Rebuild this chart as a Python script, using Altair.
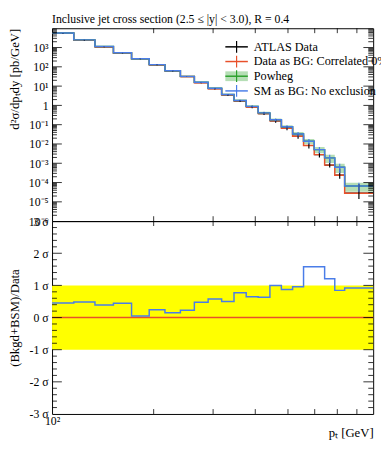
import altair as alt
import pandas as pd

# ---------------- data ----------------
edges = [100, 116, 134, 152, 172, 194, 216, 240, 264, 290, 318, 346, 376,
         408, 442, 478, 516, 556, 598, 642, 688, 736, 894]

atlas = [5450, 2380, 1080, 512, 263, 127, 61, 31.2, 15.0, 7.3, 3.45, 1.68,
         0.83, 0.375, 0.158, 0.066, 0.025, 0.0083, 0.0028, 0.0008, 2.4e-4, 2.8e-5]
atlas_err_down = [0.05, 0.05, 0.05, 0.05, 0.05, 0.06, 0.06, 0.06, 0.07, 0.08, 0.1,
                  0.12, 0.14, 0.16, 0.2, 0.22, 0.25, 0.3, 0.3, 0.25, 0.35, 0.5]
atlas_err_up = [0.05, 0.05, 0.05, 0.05, 0.05, 0.06, 0.06, 0.06, 0.07, 0.08, 0.1,
                0.12, 0.14, 0.16, 0.2, 0.22, 0.25, 0.3, 0.4, 1.0, 1.2, 2.0]

data_as_bg = [5450, 2380, 1080, 512, 263, 127, 61, 31.2, 15.0, 7.3, 3.45, 1.68,
              0.83, 0.375, 0.158, 0.066, 0.025, 0.0083, 0.0028, 0.0008, 2.4e-4, 2.8e-5]

powheg = [5700, 2500, 1120, 535, 265, 130, 62, 32, 15.8, 7.7, 3.63, 1.8,
          0.89, 0.41, 0.18, 0.079, 0.033, 0.0138, 0.0051, 0.0019, 6.2e-4, 6.6e-5]
powheg_err = [0.05, 0.05, 0.05, 0.05, 0.05, 0.05, 0.06, 0.06, 0.07, 0.08, 0.09, 0.1,
              0.12, 0.14, 0.17, 0.2, 0.25, 0.3, 0.35, 0.45, 0.5, 0.5]

sm_as_bg = [5700, 2500, 1120, 535, 265, 130, 62, 32, 15.8, 7.7, 3.63, 1.8,
            0.89, 0.41, 0.18, 0.079, 0.033, 0.0138, 0.0051, 0.0019, 6.2e-4, 6.6e-5]

ratio_sigma = [0.45, 0.485, 0.39, 0.445, 0.05, 0.24, 0.15, 0.23, 0.475, 0.58, 0.50,
               0.77, 0.65, 0.63, 1.0, 0.875, 0.96, 1.58, 1.58, 1.21, 0.845, 0.92]
band = [-1, 1]

top_label_values = [1e-6, 1e-5, 1e-4, 1e-3, 1e-2, 1e-1, 1, 10, 100, 1000]
top_labels = ["10⁻⁶", "10⁻⁵", "10⁻⁴", "10⁻³", "10⁻²", "10⁻¹", "1", "10¹", "10²", "10³"]
ratio_label_values = [-3, -2, -1, 0, 1, 2, 3]
x_label_values = [100]
x_labels = ["10²"]

legend_labels = ["ATLAS Data", "Data as BG: Correlated 0%", "Powheg", "SM as BG: No exclusion"]

title = "Inclusive jet cross section (2.5 ≤ |y| < 3.0), R = 0.4"

# ---------------- style ----------------
FONT = "Liberation Serif"
W, H, HB = 328, 197, 197
BLACK = "black"
RED = "#e8502a"
GREEN = "#2ca02c"
BLUE = "#4a7de8"

xscale = alt.Scale(type="log", domain=[edges[0], edges[-1]], nice=False)
ytop_scale = alt.Scale(type="log", domain=[1e-6, 1e4], nice=False)
yrat_scale = alt.Scale(domain=[-3, 3], nice=False, zero=False)

expr_parts = []
for v, lab in zip(top_label_values, top_labels):
    expr_parts.append(f"datum.value < {v * 3} ? '{lab}' : ")
top_expr = "".join(expr_parts) + "''"

ytop_axis = alt.Axis(values=top_label_values, labelExpr=top_expr, ticks=False, domain=False,
                     grid=False, labelFont=FONT, labelFontSize=12, labelPadding=4,
                     labelColor=BLACK, title="d²σ/dpₜdy [pb/GeV]", titleFont=FONT,
                     titleFontSize=13, titleFontWeight="normal", titleColor=BLACK,
                     titleAnchor="end", titlePadding=2, minExtent=29, maxExtent=29)
yrat_axis = alt.Axis(values=ratio_label_values, labelExpr="datum.value + ' σ'", ticks=False,
                     domain=False, grid=False, labelFont=FONT, labelFontSize=12, labelPadding=4,
                     labelColor=BLACK, title="(Bkgd+BSM)/Data", titleFont=FONT,
                     titleFontSize=13, titleFontWeight="normal", titleColor=BLACK,
                     titlePadding=2, minExtent=29, maxExtent=29)
xb_axis = alt.Axis(values=x_label_values, labelExpr=f"'{x_labels[0]}'", ticks=False, domain=False,
                   grid=False, labelFlush=False, labelFont=FONT, labelFontSize=12, labelPadding=2,
                   labelColor=BLACK, title="pₜ [GeV]", titleFont=FONT, titleFontSize=13,
                   titleFontWeight="normal", titleColor=BLACK, titleAnchor="end", titlePadding=0)


def Xt(f):
    return alt.X(f, type="quantitative", scale=xscale, axis=None)


def Xb(f):
    return alt.X(f, type="quantitative", scale=xscale, axis=xb_axis)


def Yt(f):
    return alt.Y(f, type="quantitative", scale=ytop_scale, axis=ytop_axis)


def Yr(f):
    return alt.Y(f, type="quantitative", scale=yrat_scale, axis=yrat_axis)


def step_df(vals, name="v"):
    return pd.DataFrame({"x": edges, name: list(vals) + [vals[-1]]})


centers = [(edges[i] * edges[i + 1]) ** 0.5 for i in range(len(edges) - 1)]

# ---------------- top panel ----------------
band_df = pd.DataFrame({
    "x": edges,
    "lo": [p * (1 - e) for p, e in zip(powheg, powheg_err)] + [powheg[-1] * (1 - powheg_err[-1])],
    "hi": [p * (1 + e) for p, e in zip(powheg, powheg_err)] + [powheg[-1] * (1 + powheg_err[-1])],
})
data_df = pd.DataFrame({
    "xc": centers, "xl": edges[:-1], "xh": edges[1:], "v": atlas,
    "lo": [v * (1 - d) for v, d in zip(atlas, atlas_err_down)],
    "hi": [v * (1 + u) for v, u in zip(atlas, atlas_err_up)],
})
sm_err_df = pd.DataFrame({
    "xc": centers,
    "lo": [v * (1 - e) for v, e in zip(sm_as_bg, powheg_err)],
    "hi": [v * (1 + e) for v, e in zip(sm_as_bg, powheg_err)],
})

layers_top = [
    alt.Chart(band_df).mark_area(interpolate="step-after", color=GREEN, opacity=0.35, clip=True)
    .encode(x=Xt("x"), y=Yt("lo"), y2="hi"),
    alt.Chart(data_df).mark_rule(color=BLACK, strokeWidth=1.2, clip=True)
    .encode(x=Xt("xl"), x2="xh", y=Yt("v")),
    alt.Chart(step_df(data_as_bg)).mark_line(interpolate="step-after", color=RED, strokeWidth=1.5, clip=True)
    .encode(x=Xt("x"), y=Yt("v")),
    alt.Chart(step_df(powheg)).mark_line(interpolate="step-after", color=GREEN, strokeWidth=1.5, clip=True)
    .encode(x=Xt("x"), y=Yt("v")),
    alt.Chart(step_df(sm_as_bg)).mark_line(interpolate="step-after", color=BLUE, strokeWidth=1.5, clip=True)
    .encode(x=Xt("x"), y=Yt("v")),
    alt.Chart(data_df).mark_rule(color=BLACK, strokeWidth=1.2, clip=True)
    .encode(x=Xt("xc"), y=Yt("lo"), y2="hi"),
    alt.Chart(sm_err_df).mark_rule(color=BLUE, strokeWidth=1.2, clip=True)
    .encode(x=Xt("xc"), y=Yt("lo"), y2="hi"),
]

# inner ticks
ymaj = [10.0 ** e for e in range(-5, 4)]
ymin = [k * 10.0 ** e for e in range(-6, 4) for k in range(2, 10)]
xmin = [200, 300, 400, 500, 600, 700, 800]


def tick_layers(yfun, xfun, ymaj_vals, ymin_vals, h):
    out = []
    for vals, ln in ((ymaj_vals, 10), (ymin_vals, 5)):
        d = pd.DataFrame({"t": vals})
        out.append(alt.Chart(d).mark_rule(color=BLACK, strokeWidth=0.8)
                   .encode(y=yfun("t"), x=alt.value(0), x2=alt.value(ln)))
        out.append(alt.Chart(d).mark_rule(color=BLACK, strokeWidth=0.8)
                   .encode(y=yfun("t"), x=alt.value(W), x2=alt.value(W - ln)))
    d = pd.DataFrame({"t": xmin})
    out.append(alt.Chart(d).mark_rule(color=BLACK, strokeWidth=0.8)
               .encode(x=xfun("t"), y=alt.value(0), y2=alt.value(5)))
    out.append(alt.Chart(d).mark_rule(color=BLACK, strokeWidth=0.8)
               .encode(x=xfun("t"), y=alt.value(h), y2=alt.value(h - 5)))
    return out


layers_top += tick_layers(Yt, Xt, ymaj, ymin, H)

# legend
leg_colors = [BLACK, RED, GREEN, BLUE]
leg_rows = [19, 34, 49, 64]
lx0, lx1, ltx = 177, 200, 206
one = pd.DataFrame({"a": [0]})
for i, (lab, col, ry) in enumerate(zip(legend_labels, leg_colors, leg_rows)):
    if i == 2:
        layers_top.append(alt.Chart(one).mark_rect(color=GREEN, opacity=0.35)
                          .encode(x=alt.value(lx0), x2=alt.value(lx1),
                                  y=alt.value(ry - 5), y2=alt.value(ry + 5)))
    layers_top.append(alt.Chart(one).mark_rule(color=col, strokeWidth=1.5)
                      .encode(x=alt.value(lx0), x2=alt.value(lx1), y=alt.value(ry)))
    layers_top.append(alt.Chart(one).mark_rule(color=col, strokeWidth=1.2)
                      .encode(x=alt.value((lx0 + lx1) / 2), y=alt.value(ry - 6), y2=alt.value(ry + 6)))
    layers_top.append(alt.Chart(pd.DataFrame({"t": [lab]})).mark_text(
        align="left", baseline="middle", font=FONT, fontSize=12.5, color=BLACK)
        .encode(x=alt.value(ltx), y=alt.value(ry), text="t:N"))

top = alt.layer(*layers_top).properties(
    width=W, height=H,
    title=alt.TitleParams(title, anchor="start", frame="group", font=FONT, fontSize=12,
                          fontWeight="normal", color=BLACK, offset=2),
)

# ---------------- ratio panel ----------------
band_rect = pd.DataFrame({"x": [edges[0]], "x2": [edges[-1]], "lo": [band[0]], "hi": [band[1]]})
zero_df = pd.DataFrame({"x": [edges[0]], "x2": [edges[-1]], "v": [0]})

rmaj = [-2, -1, 0, 1, 2]
rmin = [round(-3 + 0.2 * i, 1) for i in range(31) if abs(round(-3 + 0.2 * i, 1) * 5) % 5 != 0]

layers_bot = [
    alt.Chart(band_rect).mark_rect(color="#ffff00")
    .encode(x=Xb("x"), x2="x2", y=Yr("lo"), y2="hi"),
    alt.Chart(zero_df).mark_rule(color=RED, strokeWidth=1.5)
    .encode(x=Xb("x"), x2="x2", y=Yr("v")),
    alt.Chart(step_df(ratio_sigma)).mark_line(interpolate="step-after", color=BLUE, strokeWidth=1.5, clip=True)
    .encode(x=Xb("x"), y=Yr("v")),
]
layers_bot += tick_layers(Yr, Xb, rmaj, rmin, HB)

bottom = alt.layer(*layers_bot).properties(width=W, height=HB)

chart = alt.vconcat(top, bottom, spacing=0, bounds="flush").properties(
    padding={"left": 0, "top": 0, "right": -8, "bottom": 0}
).configure_view(stroke=BLACK, strokeWidth=1)

chart.save("out.html", embed_options={"renderer": "svg", "actions": False})
